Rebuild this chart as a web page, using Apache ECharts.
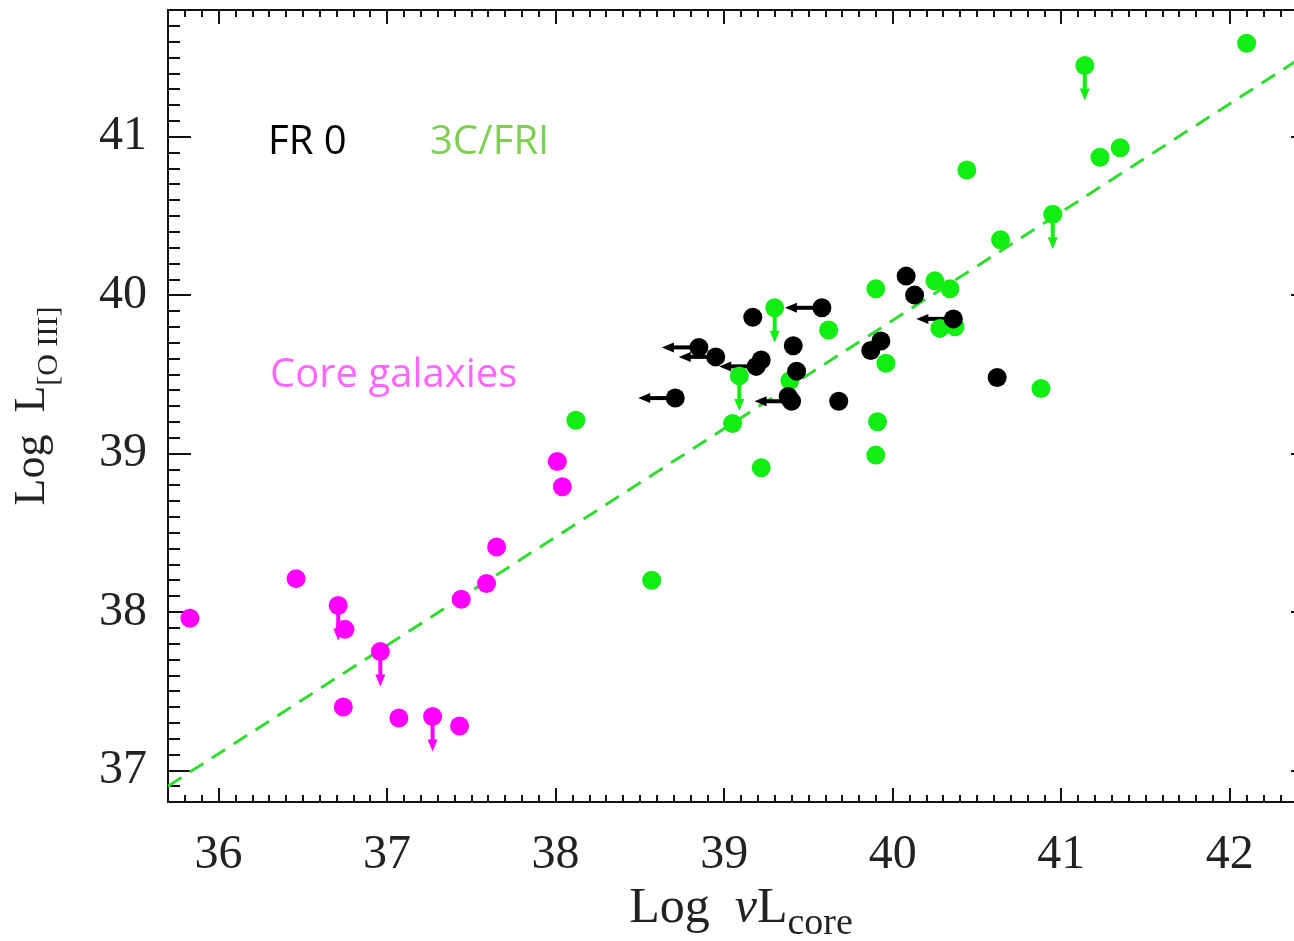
<!DOCTYPE html>
<html>
<head>
<meta charset="utf-8">
<title>Log L[O III] vs Log nuL core</title>
<script src="https://cdn.jsdelivr.net/npm/echarts@6/dist/echarts.min.js"></script>
<style>
  html, body { margin: 0; padding: 0; background: #fff; overflow: hidden; }
  /* the right frame of the original figure is cropped off, so the chart is a bit wider than the page */
  #chart { width: 1314px; height: 941px; }
</style>
</head>
<body>
<div id="chart"></div>
<script>
// x = Log nuL_core, y = Log L[O III]

// Core galaxies (magenta)
const coreGalaxies = [
  [35.83, 37.96], [36.46, 38.21], [36.75, 37.89], [36.74, 37.40], [37.07, 37.33],
  [37.43, 37.28], [37.44, 38.08], [37.59, 38.18], [37.65, 38.41], [38.01, 38.95],
  [38.04, 38.79]
]
// upper limits in y
const coreGalaxiesLimits = [[36.71, 38.04], [36.96, 37.75], [37.27, 37.34]]

// 3C/FRI (green)
const fri3c = [
  [38.12, 39.21], [38.57, 38.20], [39.05, 39.19], [39.22, 38.91], [39.39, 39.46],
  [39.62, 39.78], [39.90, 40.04], [39.96, 39.57], [39.91, 39.20], [39.90, 38.99],
  [40.25, 40.09], [40.34, 40.04], [40.28, 39.79], [40.37, 39.80], [40.44, 40.79],
  [40.64, 40.35], [40.88, 39.41], [41.23, 40.87], [41.35, 40.93], [42.10, 41.59]
]
const fri3cLimits = [[39.30, 39.92], [39.09, 39.49], [40.95, 40.51], [41.14, 41.45]]

// FR 0 (black)
const fr0 = [
  [39.17, 39.86], [39.22, 39.59], [39.41, 39.68], [39.43, 39.52], [39.38, 39.36],
  [39.68, 39.33], [39.87, 39.65], [39.93, 39.71], [40.08, 40.12], [40.13, 40.00],
  [40.62, 39.48]
]
// upper limits in x
const fr0Limits = [
  [38.71, 39.35], [38.85, 39.67], [38.95, 39.61], [39.19, 39.55], [39.40, 39.33],
  [39.58, 39.92], [40.36, 39.85]
]

// dashed correlation line
const fitLine = [[35.7, 36.9], [42.5, 41.55]]

const majorTicksX = [36, 37, 38, 39, 40, 41, 42]
const majorTicksY = [37, 38, 39, 40, 41]
const groupLabels = ['FR 0', '3C/FRI', 'Core galaxies']

const X_MIN = 35.7, X_MAX = 42.5
const Y_MIN = 36.8, Y_MAX = 41.8

function steps(min, max, step) {
  const out = []
  for (let v = Math.ceil(min / step - 1e-9); v * step <= max + 1e-9; v++) {
    out.push(Math.round(v * step * 10) / 10)
  }
  return out
}
const minorTicksX = steps(X_MIN, X_MAX, 0.1)
const minorTicksY = steps(Y_MIN, Y_MAX, 0.1)

const SERIF = 'Liberation Serif'
const SANS = 'Open Sans'
const INK = '#111'

function tickAxis(position, min, max, ticks, len, main) {
  return {
    type: 'value',
    position,
    min,
    max,
    axisLine: { show: main, onZero: false, lineStyle: { color: INK, width: 2 } },
    axisTick: { show: true, inside: true, length: len, customValues: ticks, lineStyle: { color: INK, width: 2 } },
    axisLabel: { show: false },
    splitLine: { show: false }
  }
}

function arrowSeries(data, color, dir) {
  return {
    type: 'custom',
    data,
    z: 3,
    renderItem: (params, api) => {
      const [cx, cy] = api.coord([api.value(0), api.value(1)])
      const head = 12
      const half = 5
      let shaft
      let tri
      if (dir === 'down') {
        const len = 35
        shaft = { x1: cx, y1: cy, x2: cx, y2: cy + len - head + 1 }
        tri = [[cx, cy + len], [cx - half, cy + len - head], [cx + half, cy + len - head]]
      } else {
        const len = 37
        shaft = { x1: cx, y1: cy, x2: cx - len + head - 1, y2: cy }
        tri = [[cx - len, cy], [cx - len + head, cy - half], [cx - len + head, cy + half]]
      }
      return {
        type: 'group',
        children: [
          { type: 'line', shape: shaft, style: { stroke: color, lineWidth: 4 } },
          { type: 'polygon', shape: { points: tri }, style: { fill: color } }
        ]
      }
    }
  }
}

function dots(data, color, z) {
  return {
    type: 'scatter',
    data,
    z,
    symbol: 'circle',
    symbolSize: 19,
    itemStyle: { color, opacity: 1 },
    emphasis: { disabled: true }
  }
}

const chart = echarts.init(document.getElementById('chart'))

const mainX = tickAxis('bottom', X_MIN, X_MAX, majorTicksX, 14, true)
mainX.axisLabel = {
  show: true,
  customValues: majorTicksX,
  fontFamily: SERIF,
  fontSize: 48,
  color: '#222',
  margin: 29
}
// subscript: lift the main tokens with bottom padding
mainX.name = '{m|Log  }{n|\u03bd}{m|L}{s|core}'
mainX.nameLocation = 'middle'
mainX.nameGap = 81
mainX.nameTextStyle = {
  rich: {
    m: { fontFamily: SERIF, fontSize: 50, color: '#222', lineHeight: 50, padding: [0, 0, 30, 0] },
    n: { fontFamily: SERIF, fontSize: 50, fontStyle: 'italic', color: '#222', lineHeight: 50, padding: [0, 0, 30, 0] },
    s: { fontFamily: SERIF, fontSize: 38, color: '#222', lineHeight: 38 }
  }
}

const mainY = tickAxis('left', Y_MIN, Y_MAX, majorTicksY, 23, true)
mainY.axisLabel = {
  show: true,
  customValues: majorTicksY,
  fontFamily: SERIF,
  fontSize: 48,
  color: '#222',
  margin: 21
}
mainY.name = '{m|Log  L}{s|[O III]}'
mainY.nameLocation = 'middle'
mainY.nameGap = 85
mainY.nameTextStyle = {
  rich: {
    m: { fontFamily: SERIF, fontSize: 44, color: '#222', lineHeight: 44, padding: [0, 0, 34, 0] },
    s: { fontFamily: SERIF, fontSize: 30, color: '#222', lineHeight: 30 }
  }
}

chart.setOption({
  animation: false,
  backgroundColor: '#fff',
  grid: { left: 168, right: 0, top: 10, bottom: 139, outerBoundsMode: 'none' },
  xAxis: [
    mainX,
    tickAxis('bottom', X_MIN, X_MAX, minorTicksX, 7, false),
    tickAxis('top', X_MIN, X_MAX, majorTicksX, 14, true),
    tickAxis('top', X_MIN, X_MAX, minorTicksX, 7, false)
  ],
  yAxis: [
    mainY,
    tickAxis('left', Y_MIN, Y_MAX, minorTicksY, 12, false),
    tickAxis('right', Y_MIN, Y_MAX, majorTicksY, 23, true),
    tickAxis('right', Y_MIN, Y_MAX, minorTicksY, 12, false)
  ],
  graphic: [
    { type: 'text', left: 268, top: 123, style: { text: groupLabels[0], font: `40px "${SANS}"`, fill: '#000' } },
    { type: 'text', left: 430, top: 123, style: { text: groupLabels[1], font: `40px "${SANS}"`, fill: '#7ed050' } },
    { type: 'text', left: 270, top: 356, style: { text: groupLabels[2], font: `40px "${SANS}"`, fill: '#ff66ff' } }
  ],
  series: [
    {
      type: 'line',
      data: fitLine,
      z: 1,
      symbol: 'none',
      lineStyle: { color: '#2fdc2f', width: 3, type: [16, 10] },
      emphasis: { disabled: true }
    },
    dots(coreGalaxies.concat(coreGalaxiesLimits), '#ff00ff', 2),
    arrowSeries(coreGalaxiesLimits, '#ff00ff', 'down'),
    dots(fri3c.concat(fri3cLimits), '#11ee11', 4),
    arrowSeries(fri3cLimits, '#11ee11', 'down'),
    dots(fr0.concat(fr0Limits), '#000', 6),
    arrowSeries(fr0Limits, '#000', 'left')
  ]
})
</script>
</body>
</html>
